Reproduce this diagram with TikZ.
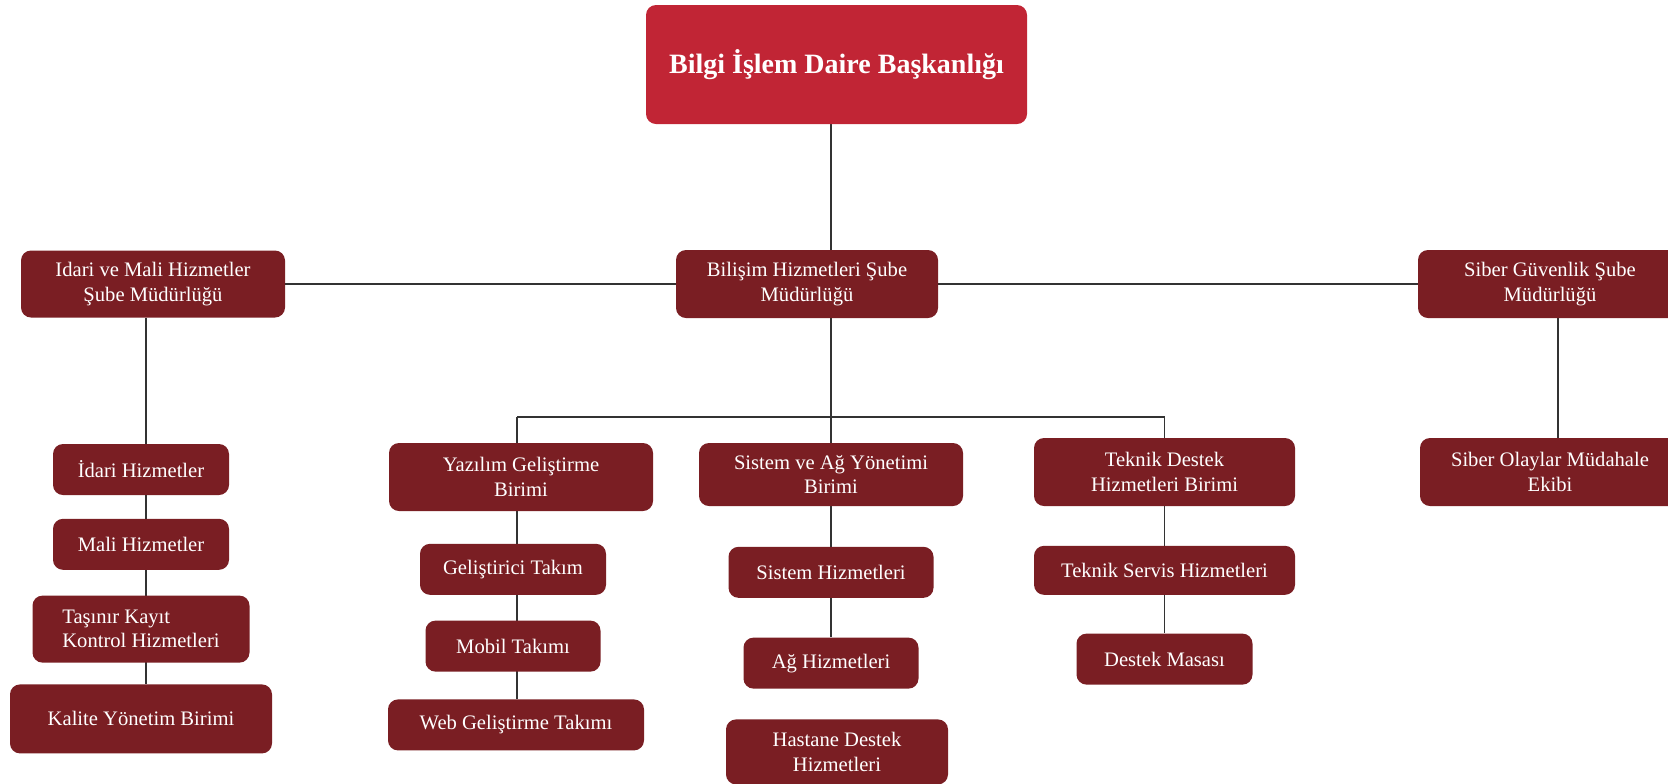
\documentclass[tikz,border=0pt]{standalone}
\usepackage{fontspec}
\setmainfont{Liberation Serif}
\usetikzlibrary{positioning,backgrounds}
\definecolor{headred}{HTML}{C12535}
\definecolor{unitred}{HTML}{7A1E23}
\definecolor{linegray}{HTML}{333333}

\begin{document}
\begin{tikzpicture}[
    x=0.5pt, y=-0.5pt,
    unitbox/.style={rectangle, fill=unitred, text=white, rounded corners=5pt, align=center, inner sep=2pt, font=\fontsize{10.3}{12.2}\selectfont},
    headbox/.style={unitbox, fill=headred, font=\fontsize{14}{16}\selectfont\bfseries},
    link/.style={draw=linegray, line width=0.8pt},
    node distance=12pt
]
\useasboundingbox (0,0) rectangle (1668,783);
% top level boxes at fixed positions
\node[headbox, minimum width=190.5pt, minimum height=59.5pt] (daire) at (836.5,64.5) {Bilgi İşlem Daire Başkanlığı};
\node[unitbox, minimum width=131pt, minimum height=34pt] (bilisim) at (807,284) {Bilişim Hizmetleri Şube\\Müdürlüğü};
\node[unitbox, minimum width=132pt, minimum height=33.5pt] (idmali) at (153,284) {Idari ve Mali Hizmetler\\Şube Müdürlüğü};
\node[unitbox, minimum width=132pt, minimum height=34pt] (siber) at (1550,284) {Siber Güvenlik Şube\\Müdürlüğü};

% left column
\node[unitbox, minimum width=88pt, minimum height=25.5pt] (idari) at (141,469.5) {İdari Hizmetler};
\node[unitbox, minimum width=88pt, minimum height=25.5pt, below=11.5pt of idari] (mali) {Mali Hizmetler};
\node[unitbox, minimum width=108.5pt, minimum height=33.5pt, align=left, below=12.5pt of mali] (tasinir) {Taşınır Kayıt\\Kontrol Hizmetleri};
\node[unitbox, minimum width=131pt, minimum height=34.5pt, below=10.5pt of tasinir] (kalite) {Kalite Yönetim Birimi};

% units under Bilişim
\node[unitbox, minimum width=132pt, minimum height=34pt] (yazilim) at (521,477) {Yazılım Geliştirme\\Birimi};
\node[unitbox, minimum width=93pt, minimum height=25.5pt, below=16pt of yazilim, xshift=-4pt] (gelistirici) {Geliştirici Takım};
\node[unitbox, minimum width=87.5pt, minimum height=25.5pt, below=12.5pt of gelistirici] (mobil) {Mobil Takımı};
\node[unitbox, minimum width=128pt, minimum height=25.5pt, below=13.5pt of mobil, xshift=1.5pt] (webtakim) {Web Geliştirme Takımı};

\node[unitbox, minimum width=132pt, minimum height=31.5pt] (sistem) at (831,474.5) {Sistem ve Ağ Yönetimi\\Birimi};
\node[unitbox, minimum width=102.5pt, minimum height=25.5pt, below=20pt of sistem] (sistemhiz) {Sistem Hizmetleri};
\node[unitbox, minimum width=87.5pt, minimum height=25.5pt, below=19.5pt of sistemhiz] (ag) {Ağ Hizmetleri};
\node[unitbox, minimum width=111pt, minimum height=32.5pt, below=15pt of ag, xshift=3pt] (hastane) {Hastane Destek\\Hizmetleri};

\node[unitbox, minimum width=130.5pt, minimum height=34pt] (teknik) at (1164.5,472) {Teknik Destek\\Hizmetleri Birimi};
\node[unitbox, minimum width=130.5pt, minimum height=24.5pt, below=19.5pt of teknik] (servis) {Teknik Servis Hizmetleri};
\node[unitbox, minimum width=88pt, minimum height=25.5pt, below=19pt of servis] (masa) {Destek Masası};

% cyber branch
\node[unitbox, minimum width=130pt, minimum height=34pt] (olaylar) at (1550,472) {Siber Olaylar Müdahale\\Ekibi};

% where the connector columns run
\coordinate (fork) at (830,417);
\coordinate (leftcol) at (146,0);
\coordinate (yazcol) at (517,0);
\coordinate (sibercol) at (1558,0);

\begin{scope}[on background layer]
\draw[link] (daire.south -| sistem) -- (sistem.north);
\draw[link] (idmali.east) -- (idmali.east -| siber.west);
\draw[link] (idmali.south -| leftcol) -- (kalite.north -| leftcol);
\draw[link] (yazcol |- fork) -- (teknik.north |- fork);
\draw[link] (yazcol |- fork) -- (webtakim.north -| yazcol);
\draw[link] (teknik.north |- fork) -- (teknik.north);
\draw[link] (sistem.south) -- (ag.north);
\draw[link] (teknik.south) -- (masa.north);
\draw[link] (siber.south -| sibercol) -- (olaylar.north -| sibercol);
\end{scope}
\end{tikzpicture}
\end{document}
